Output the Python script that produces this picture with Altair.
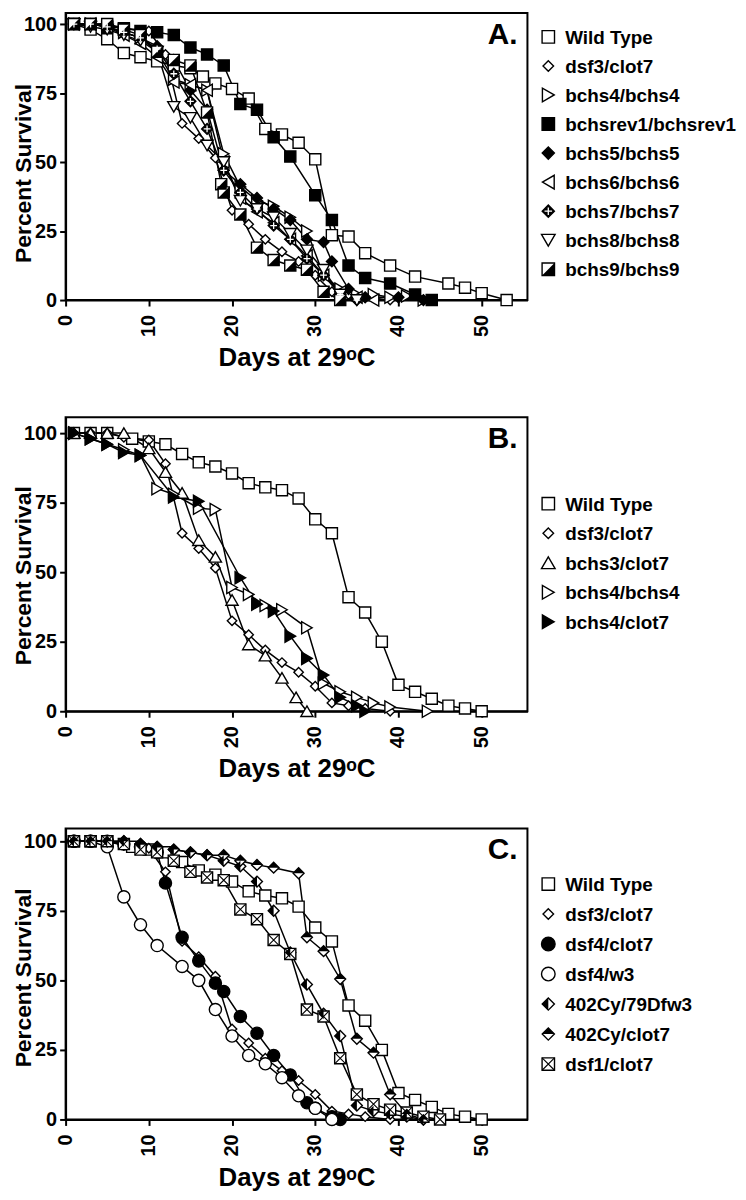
import altair as alt
import pandas as pd

FONT = "Liberation Sans"
XMAX = 55.5
W = 465

# ---------------- axis tick values ----------------
x_ticks = [0, 10, 20, 30, 40, 50]
y_ticks = [0, 25, 50, 75, 100]

# ---------------- data: panel A ----------------
A_names = ["Wild Type", "dsf3/clot7", "bchs4/bchs4", "bchsrev1/bchsrev1", "bchs5/bchs5",
           "bchs6/bchs6", "bchs7/bchs7", "bchs8/bchs8", "bchs9/bchs9"]
A_wt_days = [1, 3, 5, 7, 9, 11, 13, 15, 16.5, 18, 20, 22, 24, 26, 28, 30, 32, 34, 36, 39, 42, 46, 48, 50, 53]
A_wt_surv = [100, 98, 94.5, 89.5, 88, 86.5, 85, 84, 81, 78.5, 76.5, 73, 62, 60, 57, 51, 23.5, 23, 17, 12.5, 8.5, 6, 4.5, 2.5, 0]
dsf3_days = [1, 3, 5, 7, 10, 12, 14, 16, 18, 20, 22, 24, 26, 28, 30, 32, 34, 36, 39]
dsf3_surv = [100, 100, 100, 98.5, 97.5, 89, 64, 58.5, 51.5, 32.5, 27.5, 22, 17.5, 14, 9, 3, 2, 1, 0]
A_b4_days = [1, 3, 5, 7, 9, 11, 13, 15, 17, 19, 21, 23, 25, 27, 29, 31, 33, 35, 37, 39, 41, 43]
A_b4_surv = [100, 100, 99, 97, 95, 90, 80, 78, 76, 53, 41, 36, 34, 30, 25, 9, 4, 2, 2, 1, 1.5, 0]
A_rev_days = [1, 3, 5, 7, 9, 11, 13, 15, 17, 19, 21, 23, 25, 27, 30, 32, 34, 36, 39, 42, 44]
A_rev_surv = [100, 100, 99, 98.5, 97.5, 97, 96, 91.5, 89, 85, 71, 69, 59, 52, 38, 29, 12.5, 8, 6, 2, 0]
A_b5_days = [1, 3, 5, 7, 9, 11, 13, 15, 17, 19, 21, 23, 25, 27, 29, 31, 32, 34, 36, 40, 43]
A_b5_surv = [100, 100, 99, 97, 95, 92, 87, 76, 69, 47, 42, 37, 33, 29, 22, 21, 14, 4, 1, 1, 0]
A_b6_days = [1, 3, 5, 7, 9, 11, 13, 15, 17, 19, 21, 23, 25, 27, 29, 31, 33, 35, 37]
A_b6_surv = [100, 100, 99, 96, 93, 88, 79, 78, 76, 50, 37, 32, 28, 22, 16, 9, 3, 1, 0]
A_b7_days = [1, 3, 5, 7, 9, 11, 13, 15, 17, 19, 21, 23, 25, 27, 29, 31, 33, 35]
A_b7_surv = [100, 100, 99, 97, 95, 91, 82, 72, 62, 47, 39, 33, 27, 22, 15, 9, 2, 0]
A_b8_days = [1, 3, 5, 7, 9, 11, 13, 15, 17, 19, 21, 23, 25, 27, 29, 31, 33, 35]
A_b8_surv = [100, 99, 98, 96, 94, 90, 70, 66, 56, 50, 36, 33, 30, 24, 18, 11, 2, 0]
A_b9_days = [1, 3, 5, 7, 9, 11, 13, 15, 17, 18.7, 19, 21, 23, 25, 27, 29, 31, 33]
A_b9_surv = [100, 100, 100, 98, 96, 90, 87, 85, 68, 42, 39, 31, 19, 14.5, 12.5, 11, 3, 0]

# ---------------- data: panel B ----------------
B_names = ["Wild Type", "dsf3/clot7", "bchs3/clot7", "bchs4/bchs4", "bchs4/clot7"]
wt_days = [1, 3, 5, 8, 10, 12, 14, 16, 18, 20, 22, 24, 26, 28, 30, 32, 34, 36, 38, 40, 42, 44, 46, 48, 50]
wt_surv = [100, 100, 100, 98, 97, 96, 92.5, 89.5, 88, 85.5, 82, 80.5, 79.5, 76.5, 69, 64, 41, 35.5, 25, 9.5, 7, 4.5, 2, 1, 0]
B_b3_days = [1, 3, 5, 7, 10, 12, 14, 16, 18, 20, 22, 24, 26, 27.7, 29]
B_b3_surv = [100, 100, 100, 100, 94.5, 86, 78.5, 61.5, 55.5, 40, 24, 20, 12, 5, 0]
B_b4_days = [1, 3, 5, 7, 9, 11, 13, 16, 18, 20, 22, 24, 26, 29, 31, 33, 35, 37, 39, 43.5]
B_b4_surv = [100, 98, 96, 94, 92, 80, 78, 73, 72.5, 44.5, 42, 38, 36.5, 30, 10, 7, 5, 3, 1.5, 0]
B_b4c_days = [1, 3, 5, 7, 9, 13, 16, 21, 23, 25, 27, 29, 31, 33, 35, 36]
B_b4c_surv = [100, 98, 96, 93, 92, 77, 75.5, 48, 38.5, 36, 27, 19, 13, 5, 2, 0]

# ---------------- data: panel C ----------------
C_names = ["Wild Type", "dsf3/clot7", "dsf4/clot7", "dsf4/w3", "402Cy/79Dfw3", "402Cy/clot7", "dsf1/clot7"]
C_d4c_days = [1, 3, 5, 7, 9, 11, 12, 14, 16, 18, 19, 21, 23, 25, 27, 29, 30, 32, 33]
C_d4c_surv = [100, 100, 100, 99, 98, 96, 85, 65.5, 57, 49, 46, 37, 31, 23, 16, 6, 4, 1, 0]
C_d4w_days = [1, 3, 5, 7, 9, 11, 14, 16, 18, 20, 22, 24, 26, 28, 30, 32]
C_d4w_surv = [100, 100, 98, 80, 70, 62.5, 55, 50, 39.5, 30, 23, 20, 15, 8.5, 4, 0]
C_79_days = [1, 3, 5, 7, 9, 11, 13, 15, 17, 19, 21, 23, 25, 27, 29, 31, 33, 35, 37, 39, 41, 43]
C_79_surv = [100, 100, 100, 100, 99, 98, 97, 96, 95, 93, 91, 85.5, 75, 60, 48.5, 38, 30, 5, 3, 2, 1, 0]
C_cy_days = [1, 3, 5, 7, 9, 11, 13, 15, 17, 19, 21, 23, 25, 28, 29, 31, 33, 35, 37, 39, 41, 43]
C_cy_surv = [100, 100, 100, 100, 99, 98, 97, 96, 95, 95, 93, 91.5, 90.5, 88.5, 65.5, 60.5, 50.5, 29, 24, 9, 2, 0]
C_d1_days = [1, 3, 5, 7, 9, 11, 13, 15, 17, 19, 21, 23, 25, 27, 29, 31, 33, 35, 37, 39, 41, 43, 45]
C_d1_surv = [100, 100, 100, 99, 97, 96, 93, 89, 87, 86, 75.5, 72, 64.5, 59.5, 39.5, 37, 22, 9, 5.5, 3.5, 2.5, 1, 0]

# ---------------- marker styles ----------------
HALF_SQ = "M1,-1L1,1L-1,1Z"
PLUS = "M-0.62,0L0.62,0M0,-0.62L0,0.62"
DIA_LEFT = "M0,-1L-1,0L0,1Z"
DIA_TOP = "M-1,0L0,-1L1,0Z"
SQ_X = "M-1,-1L1,1M1,-1L-1,1"

STYLE = {
    "Wild Type": ("square", "white", 125, None),
    "dsf3/clot7": ("diamond", "white", 90, None),
    "bchs4/bchs4": ("triangle-right", "white", 150, None),
    "bchsrev1/bchsrev1": ("square", "black", 125, None),
    "bchs5/bchs5": ("diamond", "black", 120, None),
    "bchs6/bchs6": ("triangle-left", "white", 150, None),
    "bchs7/bchs7": ("diamond", "black", 120, ("plus", PLUS)),
    "bchs8/bchs8": ("triangle-down", "white", 150, None),
    "bchs9/bchs9": ("square", "white", 125, ("fill", HALF_SQ)),
    "bchs3/clot7": ("triangle-up", "white", 150, None),
    "bchs4/clot7": ("triangle-right", "black", 150, None),
    "dsf4/clot7": ("circle", "black", 150, None),
    "dsf4/w3": ("circle", "white", 150, None),
    "402Cy/79Dfw3": ("diamond", "white", 120, ("fill", DIA_LEFT)),
    "402Cy/clot7": ("diamond", "white", 120, ("fill", DIA_TOP)),
    "dsf1/clot7": ("square", "white", 125, ("line", SQ_X)),
}


def styled(df, scale=1.0):
    df = df.copy()
    df["shp"] = [STYLE[s][0] for s in df["series"]]
    df["fil"] = [STYLE[s][1] for s in df["series"]]
    df["sz"] = [STYLE[s][2] * scale for s in df["series"]]
    df["ovk"] = [STYLE[s][3][0] if STYLE[s][3] else "" for s in df["series"]]
    df["ovp"] = [STYLE[s][3][1] if STYLE[s][3] else "" for s in df["series"]]
    return df


def marker_layers(src, x, y):
    base = alt.Chart(src).mark_point(filled=True, opacity=1, stroke="black", strokeWidth=1.4).encode(
        x=x, y=y,
        shape=alt.Shape("shp:N", scale=None),
        fill=alt.Fill("fil:N", scale=None),
        size=alt.Size("sz:Q", scale=None),
    )
    ov_fill = alt.Chart(src).transform_filter("datum.ovk == 'fill'").mark_point(
        filled=True, opacity=1, fill="black", strokeWidth=0).encode(
        x=x, y=y, shape=alt.Shape("ovp:N", scale=None), size=alt.Size("sz:Q", scale=None))
    ov_plus = alt.Chart(src).transform_filter("datum.ovk == 'plus'").mark_point(
        filled=False, opacity=1, stroke="white", strokeWidth=1.3).encode(
        x=x, y=y, shape=alt.Shape("ovp:N", scale=None), size=alt.Size("sz:Q", scale=None))
    ov_line = alt.Chart(src).transform_filter("datum.ovk == 'line'").mark_point(
        filled=False, opacity=1, stroke="black", strokeWidth=1.1).encode(
        x=x, y=y, shape=alt.Shape("ovp:N", scale=None), size=alt.Size("sz:Q", scale=None))
    return [base, ov_fill, ov_plus, ov_line]


def panel(names, days, survs, letter, height, ymax, title_y, leg_top, leg_step):
    rows = []
    for n, ds, ss in zip(names, days, survs):
        for d, s in zip(ds, ss):
            rows.append({"series": n, "day": d, "surv": s})
    df = styled(pd.DataFrame(rows))
    leg = styled(pd.DataFrame({"series": names}), 1.25)

    xs = alt.Scale(domain=[0, XMAX], nice=False, zero=False)
    ys = alt.Scale(domain=[0, ymax], nice=False, zero=False)
    x_ax = alt.Axis(values=x_ticks, title="Days at 29ᵒC", labels=False,
                    titleY=66, titleBaseline="alphabetic", titleFontSize=26)
    y_ax = alt.Axis(values=y_ticks, title="Percent Survival", titleX=-35,
                    titleY=title_y, titleBaseline="alphabetic", titleAngle=270, labelPadding=3,
                    titleFontSize=23)
    x = alt.X("day:Q", scale=xs, axis=x_ax)
    y = alt.Y("surv:Q", scale=ys, axis=y_ax)
    xn = alt.X("day:Q", scale=xs, axis=None)
    yn = alt.Y("surv:Q", scale=ys, axis=None)

    line = alt.Chart(df).mark_line(color="black", strokeWidth=1.5).encode(
        x=x, y=y, detail="series:N", order="day:Q")
    pts = marker_layers(df, xn, yn)

    # rotated x tick labels placed through the x scale
    xlab = alt.Chart(pd.DataFrame({"v": x_ticks})).mark_text(
        angle=270, align="right", baseline="middle", font=FONT, fontSize=20, fontWeight="bold",
        color="black").encode(
        x=alt.X("v:Q", scale=xs, axis=None), y=alt.value(height + 15), text="v:Q")

    ly = alt.Y("series:N", sort=names, axis=None,
               scale=alt.Scale(domain=names, range=[leg_top, leg_top + leg_step * (len(names) - 1)], padding=0))
    leg_pts = marker_layers(leg, alt.value(486), ly)
    leg_txt = alt.Chart(leg).mark_text(align="left", baseline="middle", font=FONT, fontSize=19,
                                      fontWeight="bold", color="black", dy=1).encode(
        x=alt.value(503), y=ly, text="series:N")

    lab = alt.Chart(pd.DataFrame({"t": [letter]})).mark_text(
        align="right", baseline="middle", font=FONT, fontSize=30, fontWeight="bold", color="black").encode(
        x=alt.value(W - 10), y=alt.value(22), text="t:N")

    layers = [line] + pts + [xlab] + leg_pts + [leg_txt, lab]
    return alt.layer(*layers).resolve_scale(x="independent", y="independent").properties(width=W, height=height)


pA = panel(A_names,
           [A_wt_days, dsf3_days, A_b4_days, A_rev_days, A_b5_days, A_b6_days, A_b7_days, A_b8_days, A_b9_days],
           [A_wt_surv, dsf3_surv, A_b4_surv, A_rev_surv, A_b5_surv, A_b6_surv, A_b7_surv, A_b8_surv, A_b9_surv],
           "A.", 289, 104, 161, 24, 29.25)
pB = panel(B_names,
           [wt_days, dsf3_days, B_b3_days, B_b4_days, B_b4c_days],
           [wt_surv, dsf3_surv, B_b3_surv, B_b4_surv, B_b4c_surv],
           "B.", 296, 105.7, 159, 87, 29.75)
pC = panel(C_names,
           [wt_days, dsf3_days, C_d4c_days, C_d4w_days, C_79_days, C_cy_days, C_d1_days],
           [wt_surv, dsf3_surv, C_d4c_surv, C_d4w_surv, C_79_surv, C_cy_surv, C_d1_surv],
           "C.", 293, 104.6, 150, 56, 30.2)

chart = alt.vconcat(pA, pB, pC, spacing=118, bounds="flush").properties(
    padding={"left": 4, "top": 0, "right": 0, "bottom": 0}, background="white"
).configure_view(stroke="black", strokeWidth=2).configure_axis(
    grid=False, domainColor="black", domainWidth=2, tickColor="black", tickWidth=2, tickSize=6,
    labelFont=FONT, labelFontSize=20, labelFontWeight="bold", labelColor="black",
    titleFont=FONT, titleFontWeight="bold", titleColor="black",
)

chart.save("out.html", embed_options={"renderer": "svg", "actions": False})
